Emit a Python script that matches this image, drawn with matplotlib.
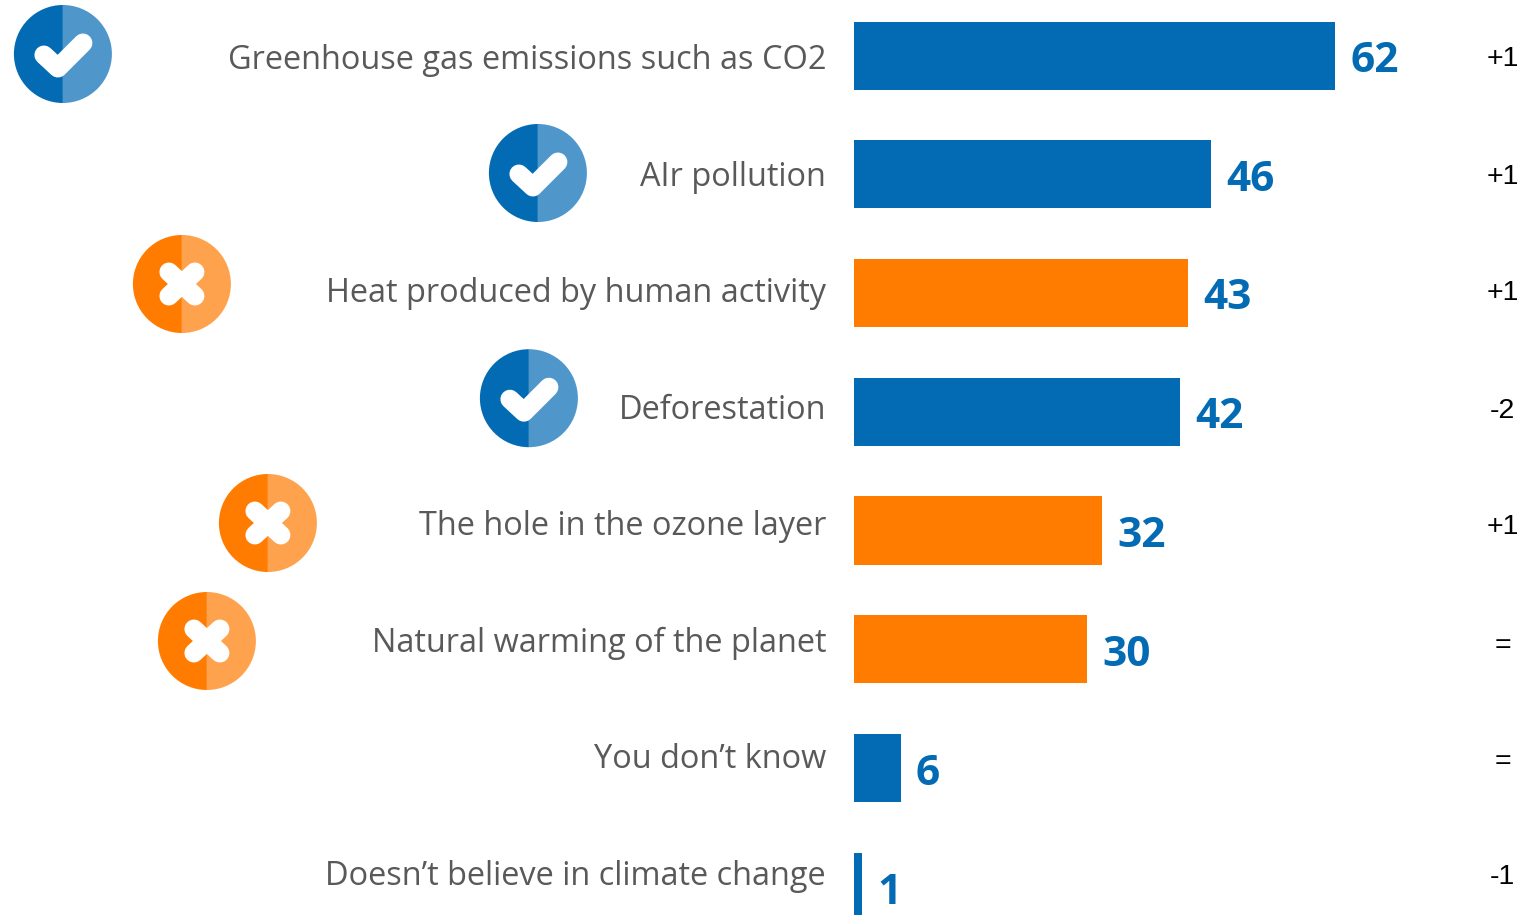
import matplotlib
matplotlib.use('Agg')
import matplotlib.pyplot as plt
from matplotlib.patches import Wedge

categories = ['Greenhouse gas emissions such as CO2', 'AIr pollution', 'Heat produced by human activity',
              'Deforestation', 'The hole in the ozone layer', 'Natural warming of the planet',
              'You don’t know', 'Doesn’t believe in climate change']
values = [62, 46, 43, 42, 32, 30, 6, 1]
changes = ['+1', '+1', '+1', '-2', '+1', '=', '=', '-1']
verdicts = ['right', 'right', 'wrong', 'right', 'wrong', 'wrong', 'none', 'none']

BLUE = '#036BB4'
BLUE_LIGHT = '#4F97CB'
ORANGE = '#FF7C00'
ORANGE_LIGHT = '#FFA24D'

W, H = 1524, 915
PX_PER_UNIT = 7.76
ZERO_X = 854
ROW_START = 55.7
ROW_STEP = 118.7

# icon centres in pixels, one per category that has a verdict
icon_centres = [(62.9, 54), (537.9, 173), (181.9, 284), (528.9, 398.2), (267.9, 523), (206.9, 641)]
label_y = [60.5, 177.5, 293.5, 410.5, 526.5, 643.5, 759.5, 876.5]
change_y = [59.5, 176.5, 293.5, 410.5, 526.5, 645.5, 762.5, 877.5]


def draw_icon(ax, cx, cy, kind):
    dark, light = (BLUE, BLUE_LIGHT) if kind == 'right' else (ORANGE, ORANGE_LIGHT)
    ax.add_patch(Wedge((cx, cy), 49, 90, 270, fc=dark, ec='none'))
    ax.add_patch(Wedge((cx, cy), 49, 270, 90, fc=light, ec='none'))
    lw = 19 * 72 / 100
    if kind == 'right':
        ax.plot([cx - 19, cx - 5, cx + 20], [cy + 1, cy + 14, cy - 11], color='white', lw=lw,
                solid_capstyle='round', solid_joinstyle='round')
    else:
        ax.plot([cx - 13, cx + 13], [cy - 12, cy + 12], color='white', lw=lw, solid_capstyle='round')
        ax.plot([cx - 13, cx + 13], [cy + 12, cy - 12], color='white', lw=lw, solid_capstyle='round')


fig = plt.figure(figsize=(W / 100, H / 100), dpi=100)

# bars: one unit on x is PX_PER_UNIT pixels, one row on y is ROW_STEP pixels
ax = fig.add_axes([0, 0, 1, 1])
ax.set_xlim(-ZERO_X / PX_PER_UNIT, (W - ZERO_X) / PX_PER_UNIT)
ax.set_ylim((H - ROW_START) / ROW_STEP, -ROW_START / ROW_STEP)
ax.axis('off')

colors = [ORANGE if v == 'wrong' else BLUE for v in verdicts]
ax.barh(range(len(values)), values, height=0.573, color=colors)
for i, v in enumerate(values):
    ax.annotate(str(v), (v, i), xytext=(11, -4 - i * 0.1), textcoords='offset points',
                ha='left', va='center', fontsize=30.5, fontweight='bold', color=BLUE, family='Open Sans')

# text and icons sit on their own pixel grid
overlay = fig.add_axes([0, 0, 1, 1])
overlay.set_xlim(0, W)
overlay.set_ylim(H, 0)
overlay.axis('off')
overlay.patch.set_alpha(0)

for name, y in zip(categories, label_y):
    overlay.text(826, y, name, ha='right', va='center', fontsize=23.4, color='#595959', family='Open Sans')
for change, y in zip(changes, change_y):
    overlay.text(1502.5, y, change, ha='center', va='center', fontsize=20.5, color='black', family='Liberation Sans')

kinds = [v for v in verdicts if v != 'none']
for (cx, cy), kind in zip(icon_centres, kinds):
    draw_icon(overlay, cx, cy, kind)

fig.savefig('out.png', dpi=100)
